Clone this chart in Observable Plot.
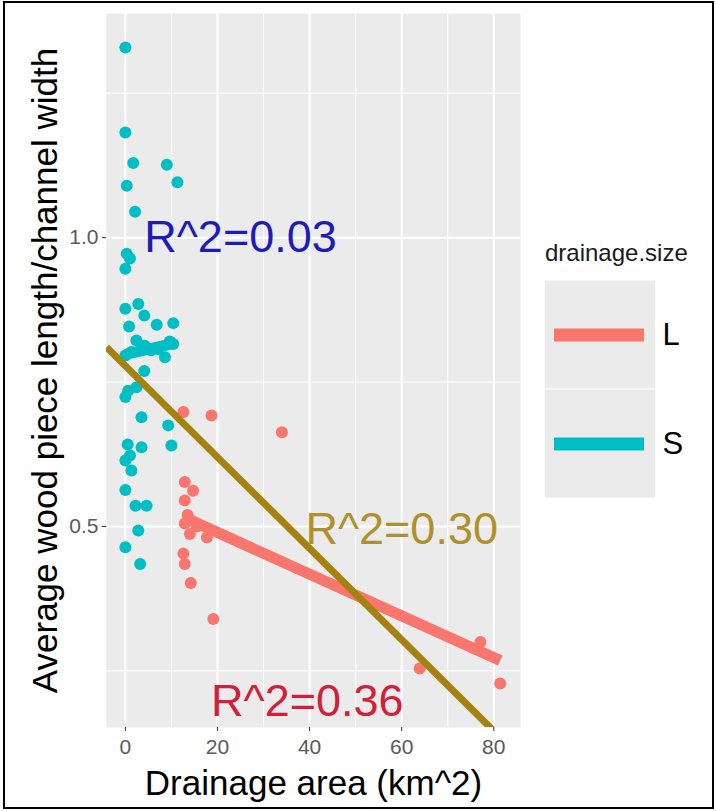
<!DOCTYPE html>
<html><head><meta charset="utf-8">
<script src="https://cdn.jsdelivr.net/npm/d3@7"></script>
<script src="https://cdn.jsdelivr.net/npm/@observablehq/plot@0.6"></script>
<style>
body{margin:0;background:#fff;font-family:"Liberation Sans",Arial,sans-serif;}
#wrap{position:relative;width:716px;height:811px;overflow:hidden;background:#fff;}
#wrap svg{position:absolute;left:0;top:0;max-width:none !important;}
#border{position:absolute;left:3px;top:1px;width:707px;height:804px;border:2px solid #000;pointer-events:none;}
#legTitle{position:absolute;left:545px;top:241px;font-size:24px;line-height:1;color:#1a1a1a;white-space:nowrap;}
#leg{position:absolute;left:545px;top:280px;width:150px;height:218px;}
</style></head><body>
<div id="wrap"><div id="legTitle">drainage.size</div><div id="leg"></div><div id="border"></div></div>
<script>
// ---- data ----
const groups = ["L", "S"];
const groupColors = ["#F8766D", "#00BFC4"];

// small drainage (S) points
const sArea  = [0, 0, 1.7, 9.0, 0.3, 11.3, 2.1, 0.3, 1.0, 0, 0, 2.8, 4.1, 0.8, 6.8, 10.4, 2.4, 1.3, 4.2, 7.1, 8.6, 10.4, 0, 5.6, 9.6, 4.1, 2.4, 0, 0.6, 3.5, 9.3, 10.0, 0.5, 3.5, 0, 1.0, 1.3, 0, 2.2, 4.6, 2.8, 0, 3.2];
const sRatio = [1.329, 1.182, 1.129, 1.126, 1.090, 1.096, 1.045, 0.972, 0.964, 0.946, 0.877, 0.885, 0.865, 0.846, 0.849, 0.852, 0.822, 0.802, 0.813, 0.807, 0.793, 0.816, 0.796, 0.805, 0.820, 0.769, 0.741, 0.724, 0.735, 0.689, 0.675, 0.640, 0.642, 0.637, 0.614, 0.623, 0.597, 0.563, 0.536, 0.536, 0.493, 0.464, 0.435];

// large drainage (L) points
const lArea  = [12.6, 18.7, 34.0, 12.9, 14.7, 12.9, 12.9, 14.0, 17.7, 13.5, 15.5, 12.6, 12.9, 14.2, 19.1, 77.1, 63.9, 81.4];
const lRatio = [0.698, 0.692, 0.663, 0.577, 0.562, 0.545, 0.505, 0.487, 0.481, 0.520, 0.500, 0.453, 0.435, 0.402, 0.340, 0.300, 0.254, 0.228];

// group fit lines (endpoints)
const lFitArea = [13.0, 81.4];
const lFitRatio = [0.515, 0.268];
const sFitArea = [0.0, 11.0];
const sFitRatio = [0.798, 0.818];

// overall fit (abline)
const ablIntercept = 0.778;
const ablSlope = -0.0079;

// annotations
const annLabels = ["R^2=0.03", "R^2=0.30", "R^2=0.36"];
const annX = [25, 60, 39.5];
const annY = [1.0, 0.495, 0.197];
const annColors = ["#1C1CB8", "#B0902C", "#D0203A"];

// axes
const xBreaks = [0, 20, 40, 60, 80];
const xMinor = [10, 30, 50, 70];
const yBreaks = [0.5, 1.0];
const yMinor = [0.25, 0.75, 1.25];
const xDomain = [-4.1, 85.8];
const yDomain = [0.152, 1.388];
const xTitle = "Drainage area (km^2)";
const yTitle = "Average wood piece length/channel width";

// ---- build ----
const pts = lArea.map((x, i) => ({x, y: lRatio[i], g: "L"}))
  .concat(sArea.map((x, i) => ({x, y: sRatio[i], g: "S"})));
const fits = lFitArea.map((x, i) => ({x, y: lFitRatio[i], g: "L"}))
  .concat(sFitArea.map((x, i) => ({x, y: sFitRatio[i], g: "S"})));
const abl = xDomain.map(x => ({x, y: ablIntercept + ablSlope * x}));
const ann = annLabels.map((label, i) => ({label, x: annX[i], y: annY[i], c: annColors[i]}));

const chart = Plot.plot({
  width: 716, height: 811,
  marginLeft: 106, marginRight: 196, marginTop: 13, marginBottom: 84,
  style: {fontFamily: "'Liberation Sans', Arial, sans-serif", background: "transparent", overflow: "visible"},
  x: {domain: xDomain, label: null},
  y: {domain: yDomain, label: null},
  color: {domain: groups, range: groupColors},
  marks: [
    Plot.frame({fill: "#EBEBEB", stroke: null}),
    Plot.ruleX(xMinor, {stroke: "#fff", strokeWidth: 1}),
    Plot.ruleY(yMinor, {stroke: "#fff", strokeWidth: 1}),
    Plot.ruleX(xBreaks, {stroke: "#fff", strokeWidth: 2}),
    Plot.ruleY(yBreaks, {stroke: "#fff", strokeWidth: 2}),
    Plot.axisX({ticks: xBreaks, tickSize: 4, tickPadding: 8, fontSize: 21, fill: "#5a5a5a", stroke: "#333", label: null}),
    Plot.axisY({ticks: yBreaks, tickSize: 4, tickPadding: 4, fontSize: 21, tickFormat: ".1f", fill: "#5a5a5a", stroke: "#333", label: null}),
    Plot.dot(pts, {x: "x", y: "y", fill: "g", r: 6}),
    Plot.line(fits, {x: "x", y: "y", stroke: "g", z: "g", strokeWidth: 11, strokeLinecap: "butt"}),
    Plot.line(abl, {x: "x", y: "y", stroke: "#A4820F", strokeWidth: 7, strokeLinecap: "butt", clip: true}),
    Plot.text(ann, {x: "x", y: "y", text: "label", fill: "c", fontSize: 45}),
    Plot.text([yTitle], {frameAnchor: "left", textAnchor: "middle", rotate: -90, dx: -61, fontSize: 35, fill: "#000"}),
    Plot.text([xTitle], {frameAnchor: "bottom", textAnchor: "middle", dy: 67, fontSize: 35, fill: "#000"})
  ]
});
document.getElementById("wrap").prepend(chart);

const legend = Plot.plot({
  width: 150, height: 218, margin: 0,
  style: {fontFamily: "'Liberation Sans', Arial, sans-serif", background: "transparent", overflow: "visible"},
  x: {domain: [0, 150], range: [0, 150], axis: null},
  y: {domain: groups, padding: 0, axis: null},
  color: {domain: groups, range: groupColors},
  marks: [
    Plot.barX(groups, {x1: 0, x2: 110, y: d => d, fill: "#EBEBEB", insetTop: 0.5, insetBottom: 0.5}),
    Plot.ruleY(groups, {y: d => d, x1: 9, x2: 99, stroke: d => d, strokeWidth: 13}),
    Plot.text(groups, {y: d => d, x: 117, text: d => d, textAnchor: "start", fontSize: 31, fill: "#000"})
  ]
});
document.getElementById("leg").appendChild(legend);
</script>
</body></html>
